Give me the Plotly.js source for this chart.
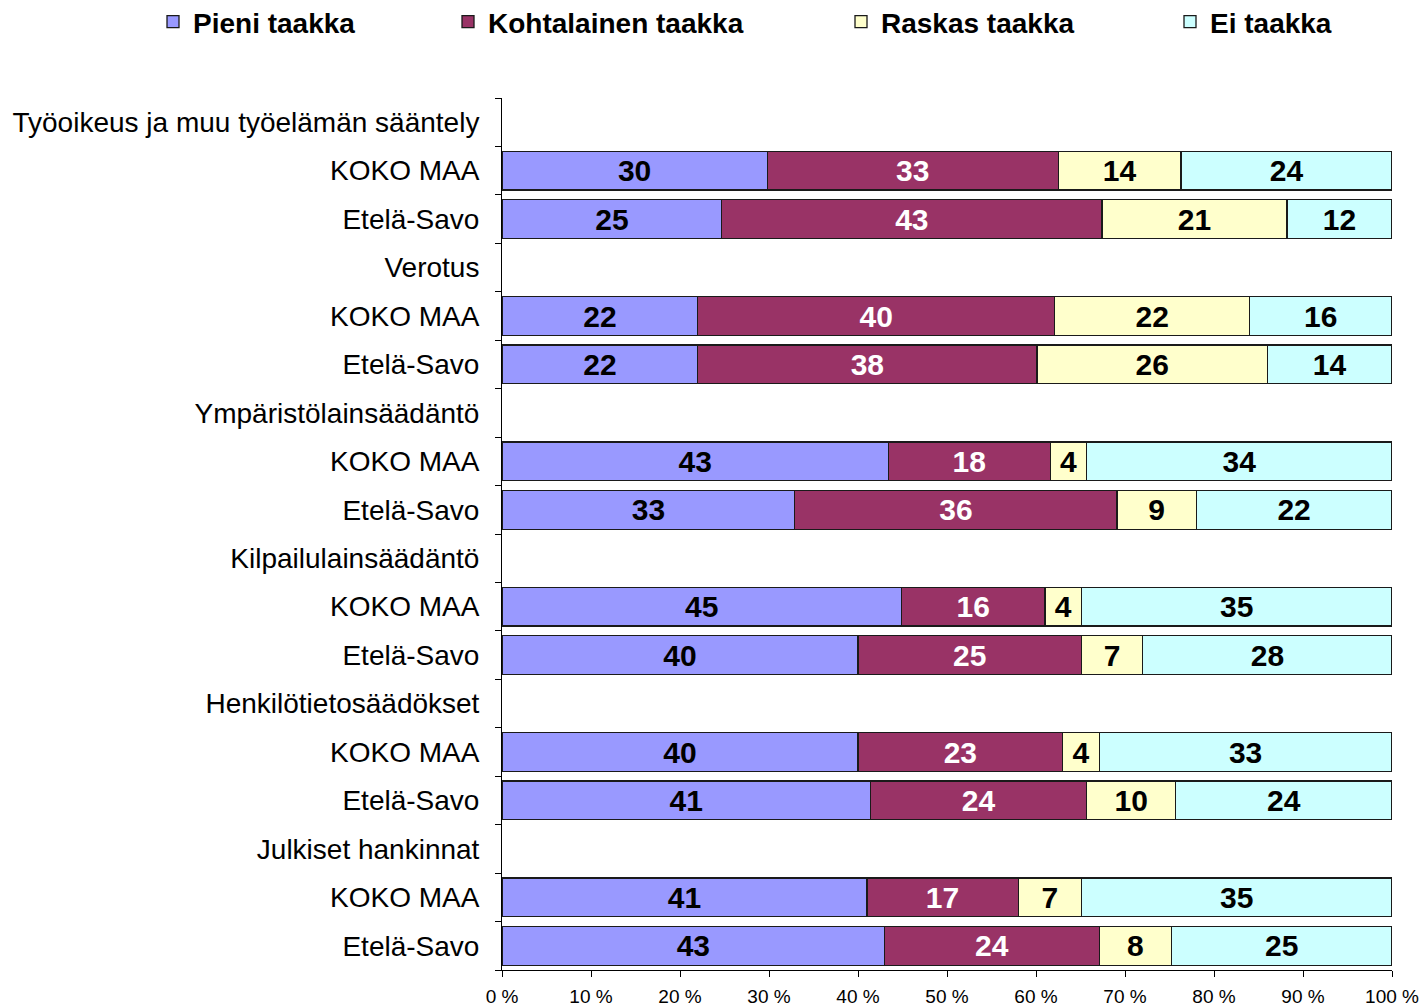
<!DOCTYPE html>
<html>
<head>
<meta charset="utf-8">
<script src="https://cdn.plot.ly/plotly-3.0.1.min.js"></script>
<style>html,body{margin:0;padding:0;background:#fff;}#chart{width:1424px;height:1008px;}</style>
</head>
<body>
<div id="chart"></div>
<script>
// Row labels, top to bottom
const rowLabels = [
  "Työoikeus ja muu työelämän sääntely", "KOKO MAA", "Etelä-Savo",
  "Verotus", "KOKO MAA", "Etelä-Savo",
  "Ympäristölainsäädäntö", "KOKO MAA", "Etelä-Savo",
  "Kilpailulainsäädäntö", "KOKO MAA", "Etelä-Savo",
  "Henkilötietosäädökset", "KOKO MAA", "Etelä-Savo",
  "Julkiset hankinnat", "KOKO MAA", "Etelä-Savo"
];
// Series values (%), null for group header rows
const pieni       = [null, 29.8, 24.7, null, 22.0, 22.0, null, 43.4, 32.9, null, 44.9, 40.0, null, 40.0, 41.4, null, 41.0, 43.0];
const kohtalainen = [null, 32.7, 42.7, null, 40.1, 38.1, null, 18.2, 36.2, null, 16.1, 25.1, null, 23.0, 24.3, null, 17.0, 24.1];
const raskas      = [null, 13.8, 20.8, null, 21.9, 25.9, null, 4.1, 8.9, null, 4.1, 6.9, null, 4.1, 10.0, null, 7.1, 8.1];
const eiTaakka    = [null, 23.7, 11.8, null, 16.0, 14.0, null, 34.3, 22.0, null, 34.9, 28.0, null, 32.9, 24.3, null, 34.9, 24.8];

const seriesNames = ["Pieni taakka", "Kohtalainen taakka", "Raskas taakka", "Ei taakka"];
const xTickVals = [0, 10, 20, 30, 40, 50, 60, 70, 80, 90, 100];
const xTickText = ["0 %", "10 %", "20 %", "30 %", "40 %", "50 %", "60 %", "70 %", "80 %", "90 %", "100 %"];

const rowIds = rowLabels.map((l, i) => "r" + i);
const FONT = "Liberation Sans, Arial, sans-serif";

const seriesData = [pieni, kohtalainen, raskas, eiTaakka];
const fills = ["#9999FF", "#993366", "#FFFFCC", "#CCFFFF"];
const textColors = ["#000000", "#FFFFFF", "#000000", "#000000"];
const legendIds = ["legend", "legend2", "legend3", "legend4"];

const traces = seriesData.map((vals, k) => ({
  type: "bar",
  orientation: "h",
  name: seriesNames[k],
  x: vals,
  y: rowIds,
  marker: { color: fills[k], line: { color: "#1a1a1a", width: 1.3 } },
  texttemplate: "%{x:.0f}",
  textposition: "inside",
  insidetextanchor: "middle",
  constraintext: "none",
  textangle: 0,
  textfont: { family: FONT, size: 30, color: textColors[k], weight: "bold" },
  hoverinfo: "skip",
  legend: legendIds[k]
}));

const W = 1424, H = 1008;
const MT = 98, MB = 38, PH = H - MT - MB;
const legendXpx = [153, 448, 841, 1170];
const legendBase = (px) => ({
  x: px / W, xref: "container", xanchor: "left",
  y: 1 + (MT + 3) / PH, yref: "paper", yanchor: "top",
  orientation: "h",
  font: { family: FONT, size: 28, color: "#000", weight: "bold" },
  bgcolor: "rgba(0,0,0,0)",
  itemclick: false, itemdoubleclick: false
});

const layout = {
  width: W, height: H,
  paper_bgcolor: "#ffffff", plot_bgcolor: "#ffffff",
  font: { family: FONT, color: "#000" },
  barmode: "stack",
  bargap: 0.2,
  margin: { l: 502, r: 32, t: MT, b: MB, pad: 0, autoexpand: false },
  showlegend: true,
  legend: legendBase(legendXpx[0]),
  legend2: legendBase(legendXpx[1]),
  legend3: legendBase(legendXpx[2]),
  legend4: legendBase(legendXpx[3]),
  xaxis: {
    range: [0, 100],
    tickmode: "array", tickvals: xTickVals, ticktext: xTickText,
    ticks: "outside", ticklen: 6, tickcolor: "#000", tickwidth: 1,
    showline: true, linecolor: "#000", linewidth: 1,
    showgrid: false, zeroline: false,
    tickfont: { family: FONT, size: 19, color: "#000" },
    ticklabelstandoff: 3,
    fixedrange: true
  },
  yaxis: {
    type: "category",
    categoryorder: "array", categoryarray: rowIds,
    autorange: "reversed",
    tickmode: "array", tickvals: rowIds, ticktext: rowLabels,
    tickson: "boundaries",
    ticks: "outside", ticklen: 6, tickcolor: "#000", tickwidth: 1,
    showline: true, linecolor: "#000", linewidth: 1,
    showgrid: false, zeroline: false,
    tickfont: { family: FONT, size: 28, color: "#000" },
    ticklabelstandoff: 16,
    fixedrange: true
  }
};

Plotly.newPlot("chart", traces, layout, { displayModeBar: false, staticPlot: true });
</script>
</body>
</html>
